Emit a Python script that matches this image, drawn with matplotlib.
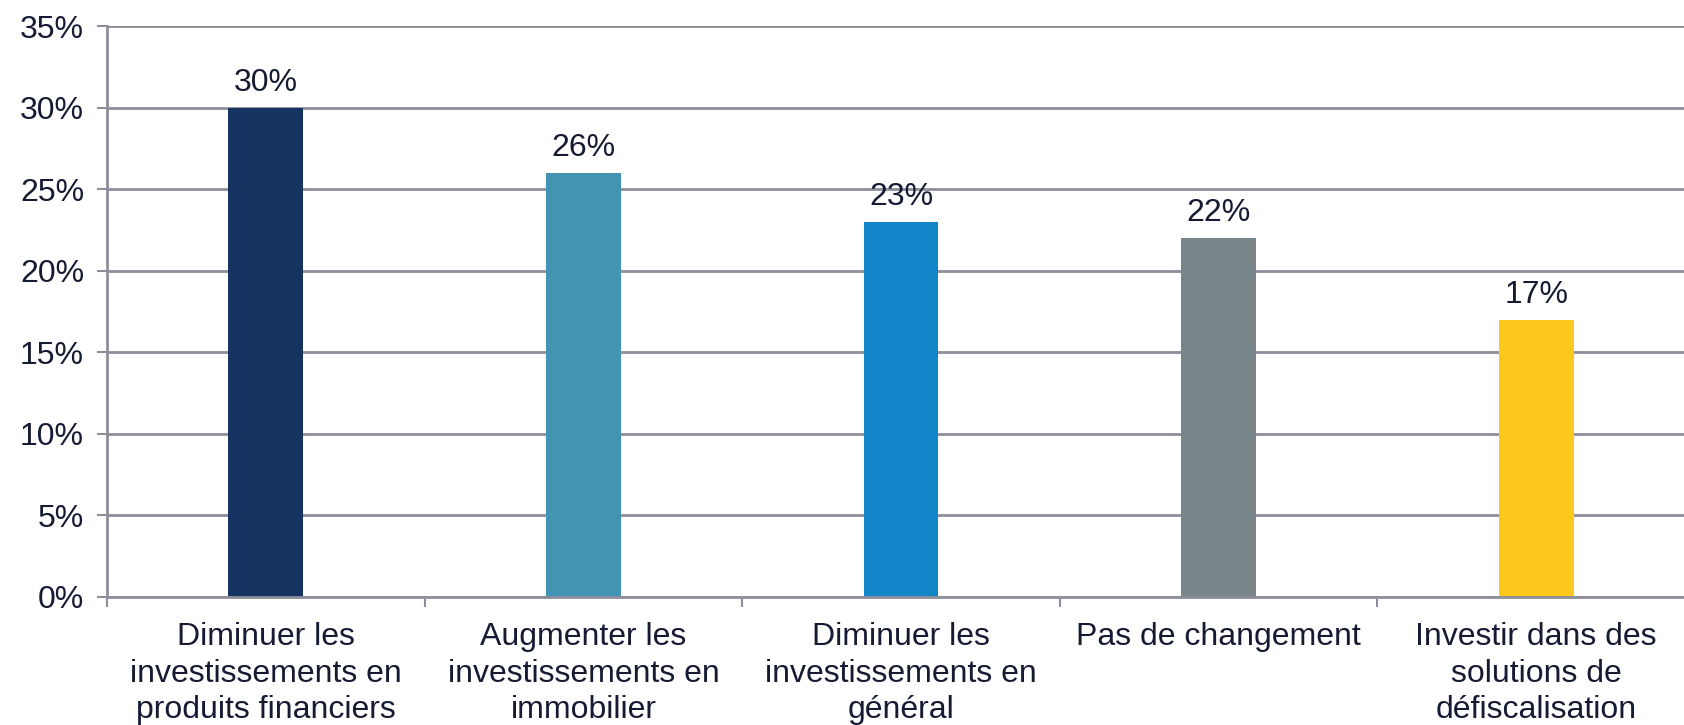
import matplotlib
matplotlib.use("Agg")
import matplotlib.pyplot as plt
from matplotlib.ticker import FixedLocator, PercentFormatter

categories = [
    "Diminuer les\ninvestissements en\nproduits financiers",
    "Augmenter les\ninvestissements en\nimmobilier",
    "Diminuer les\ninvestissements en\ngénéral",
    "Pas de changement",
    "Investir dans des\nsolutions de\ndéfiscalisation",
]
values = [30, 26, 23, 22, 17]
colors = ["#163461", "#4393b2", "#1185c7", "#7a8589", "#fcc81c"]
yticks = [0, 5, 10, 15, 20, 25, 30, 35]

plt.rcParams['font.family'] = ['Liberation Sans', 'DejaVu Sans']
txt = "#161a33"
grid = "#8e8e9c"
fs = 23

fig = plt.figure(figsize=(16.84, 7.25), dpi=100)
ax = fig.add_axes([107/1684, 128/725, 1588/1684, 571/725])

x = list(range(len(values)))
bars = ax.bar(x, values, width=0.236, color=colors, zorder=3)
for xi, v in zip(x, values):
    ax.annotate(f"{v}%", (xi, v), xytext=(0, 7), textcoords="offset points",
                ha="center", va="bottom", fontsize=fs, color=txt)

ax.set_xlim(-0.5, len(values) - 0.5)
ax.set_ylim(0, 35)
ax.set_yticks(yticks)
ax.yaxis.set_major_formatter(PercentFormatter(decimals=0))
ax.yaxis.grid(True, color=grid, linewidth=2, zorder=0)
ax.set_xticks(x)
ax.set_xticklabels(categories)
ax.xaxis.set_minor_locator(FixedLocator([i - 0.5 for i in range(len(values) + 1)]))
ax.tick_params(axis="x", which="major", length=0, pad=18, labelsize=fs, labelcolor=txt)
ax.tick_params(axis="x", which="minor", length=7.5, width=1.5, color=grid)
ax.tick_params(axis="y", length=7.5, width=1.5, color=grid, pad=9, labelsize=fs, labelcolor=txt)
for lbl in ax.get_xticklabels():
    lbl.set_linespacing(1.29)
    lbl.set_va("top")

for s in ["top", "right"]:
    ax.spines[s].set_visible(False)
for s in ["left", "bottom"]:
    ax.spines[s].set_color(grid)
    ax.spines[s].set_linewidth(2)
ax.spines["bottom"].set_zorder(4)

fig.savefig("out.png", dpi=100)
